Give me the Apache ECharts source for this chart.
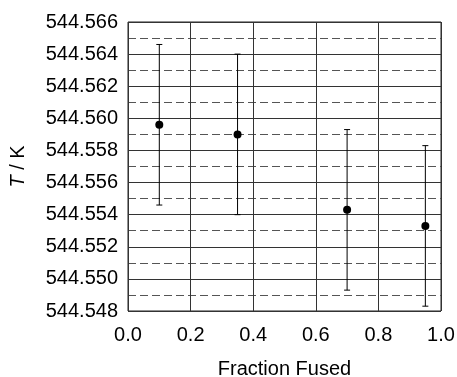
<!DOCTYPE html>
<html>
<head>
<meta charset="utf-8">
<script src="https://cdn.jsdelivr.net/npm/echarts@6/dist/echarts.min.js"></script>
<style>
  html, body { margin: 0; padding: 0; background: #fff; }
  #main { width: 457px; height: 377px; }
</style>
</head>
<body>
<div id="main"></div>
<script>
// values
var fraction = [0.1, 0.35, 0.7, 0.95];
var temperature = [544.5596, 544.5590, 544.5543, 544.5533];
var errLow = [544.5546, 544.5540, 544.5493, 544.5483];
var errHigh = [544.5646, 544.5640, 544.5593, 544.5583];

var points = fraction.map(function (x, i) { return [x, temperature[i]]; });
var bars = fraction.map(function (x, i) { return [x, errLow[i], errHigh[i]]; });

var chart = echarts.init(document.getElementById('main'));
var font = 'Liberation Sans, Arial, sans-serif';

chart.setOption({
  animation: false,
  grid: {
    left: 128, right: 16, top: 22, bottom: 66,
    outerBoundsMode: 'none',
    containLabel: false,
    show: true, borderColor: '#222', borderWidth: 1
  },
  xAxis: {
    type: 'value',
    min: 0, max: 1, interval: 0.2,
    name: 'Fraction Fused',
    nameLocation: 'middle',
    nameGap: 48,
    nameTextStyle: { fontFamily: font, fontSize: 20, color: '#000' },
    axisLine: { show: false },
    axisTick: { show: false },
    axisLabel: {
      fontFamily: font, fontSize: 20, color: '#000', margin: 14,
      formatter: function (v) { return v.toFixed(1); }
    },
    splitLine: { show: true, lineStyle: { color: '#333', width: 1 } }
  },
  yAxis: {
    type: 'value',
    min: 544.548, max: 544.566, interval: 0.002,
    name: '{i|T} / K',
    nameLocation: 'middle',
    nameRotate: 90,
    nameGap: 100,
    nameTextStyle: {
      fontFamily: font, fontSize: 20, color: '#000',
      rich: { i: { fontFamily: font, fontSize: 20, fontStyle: 'italic', color: '#000' } }
    },
    axisLine: { show: false },
    axisTick: { show: false },
    axisLabel: {
      fontFamily: font, fontSize: 20, color: '#000', margin: 10,
      formatter: function (v) { return v.toFixed(3); }
    },
    splitLine: { show: true, lineStyle: { color: '#333', width: 1 } },
    minorTick: { show: false, splitNumber: 2 },
    minorSplitLine: { show: true, lineStyle: { color: '#555', width: 1, type: [8, 4] } }
  },
  series: [
    {
      type: 'custom',
      data: bars,
      z: 3,
      renderItem: function (params, api) {
        var x = api.value(0);
        var lo = api.coord([x, api.value(1)]);
        var hi = api.coord([x, api.value(2)]);
        var cap = 3;
        var st = { stroke: '#000', lineWidth: 1 };
        return {
          type: 'group',
          children: [
            { type: 'line', shape: { x1: lo[0], y1: lo[1], x2: hi[0], y2: hi[1] }, style: st },
            { type: 'line', shape: { x1: lo[0] - cap, y1: lo[1], x2: lo[0] + cap, y2: lo[1] }, style: st },
            { type: 'line', shape: { x1: hi[0] - cap, y1: hi[1], x2: hi[0] + cap, y2: hi[1] }, style: st }
          ]
        };
      }
    },
    {
      type: 'scatter',
      data: points,
      z: 4,
      symbol: 'circle',
      symbolSize: 8,
      itemStyle: { color: '#000', opacity: 1 }
    }
  ]
});
</script>
</body>
</html>
